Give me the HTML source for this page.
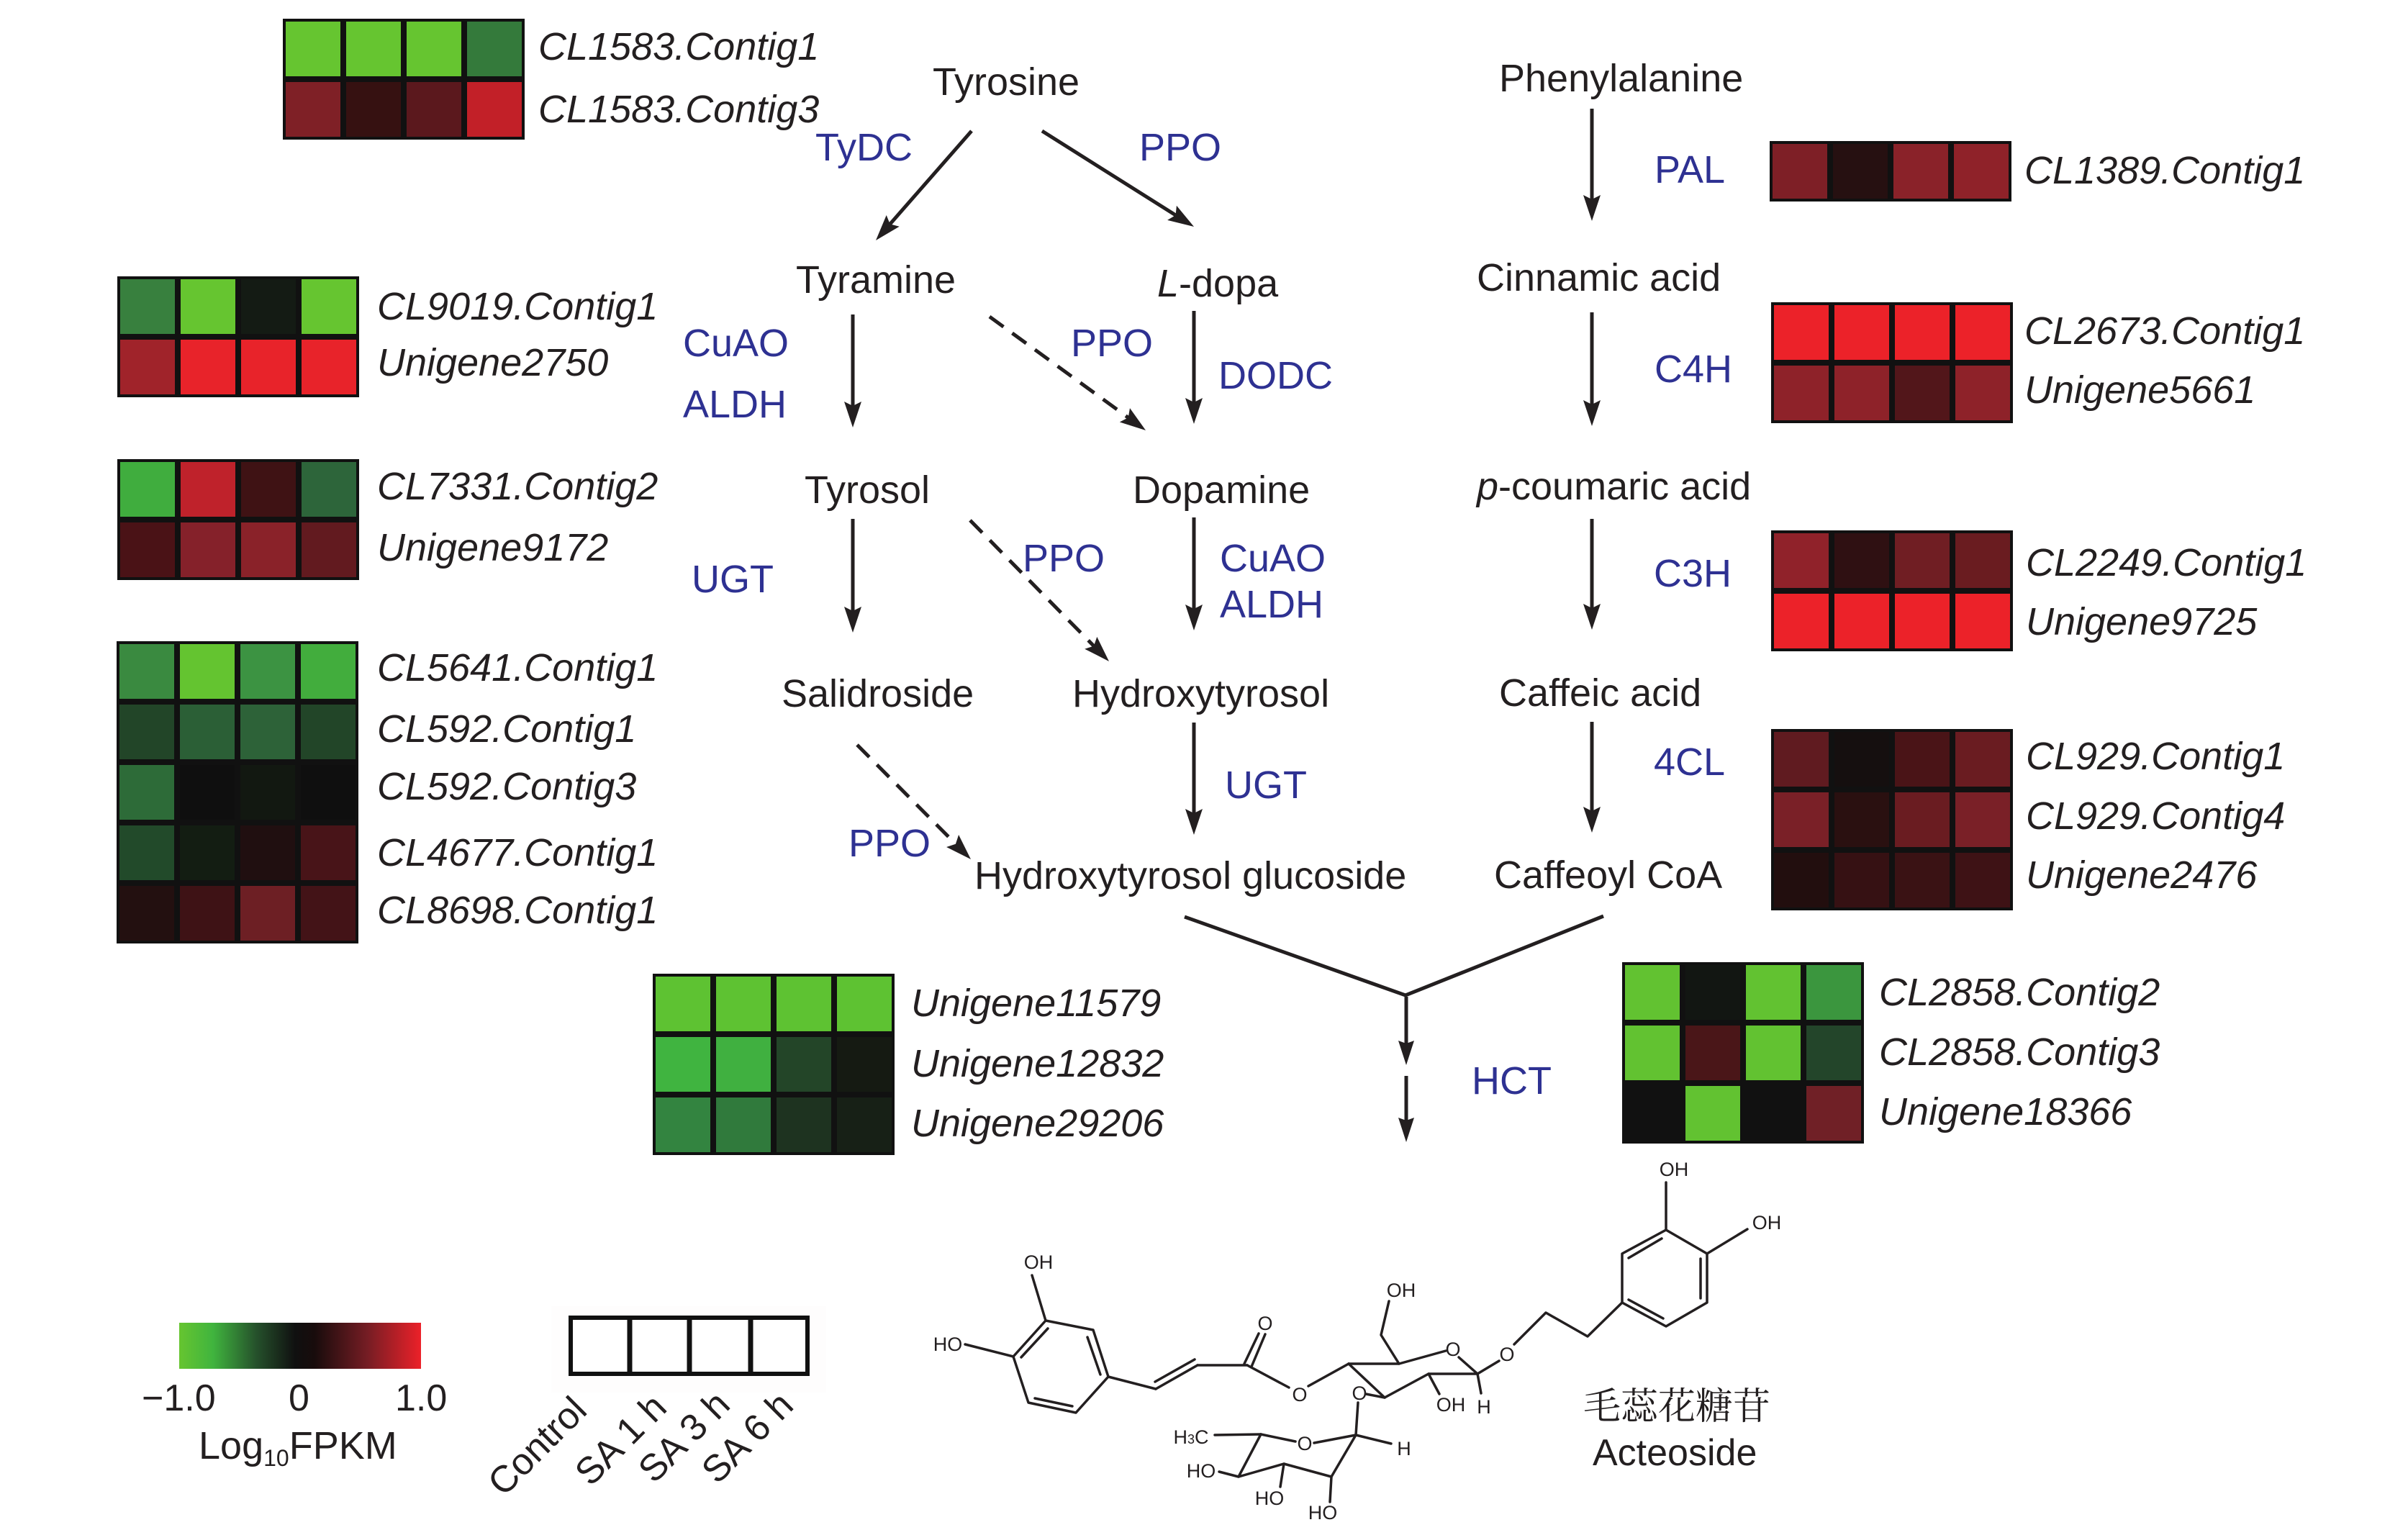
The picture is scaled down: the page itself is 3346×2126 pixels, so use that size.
<!DOCTYPE html>
<html>
<head>
<meta charset="utf-8">
<style>
html,body{margin:0;padding:0;background:#fff;}
svg{display:block;}
text{font-family:"Liberation Sans","Noto Sans CJK SC",sans-serif;fill:#231f20;}
.t{font-size:54px;}
.g{font-size:54px;font-style:italic;}
.b{font-size:54px;fill:#2e3192;}
.s{font-size:27px;}
.ln{stroke:#231f20;stroke-width:5;fill:none;}
.dl{stroke:#231f20;stroke-width:5;fill:none;stroke-dasharray:24 15;}
.bd{stroke:#231f20;stroke-width:3.5;fill:none;stroke-linecap:round;stroke-linejoin:round;}
.ah{fill:#231f20;}
</style>
</head>
<body>
<svg width="3346" height="2126" viewBox="0 0 3346 2126" xmlns="http://www.w3.org/2000/svg">
<defs>
<linearGradient id="cb" x1="0" y1="0" x2="1" y2="0">
<stop offset="0" stop-color="#66c530"/>
<stop offset="0.14" stop-color="#40b43e"/>
<stop offset="0.32" stop-color="#25502b"/>
<stop offset="0.48" stop-color="#101010"/>
<stop offset="0.56" stop-color="#180c0c"/>
<stop offset="0.78" stop-color="#761d24"/>
<stop offset="1" stop-color="#ec2129"/>
</linearGradient>
</defs>

<!-- H1 CL1583 -->
<g transform="translate(393,26)">
<rect width="336" height="168" fill="#111"/>
<rect x="4" y="4" width="76" height="76" fill="#66c530"/><rect x="88" y="4" width="76" height="76" fill="#66c530"/><rect x="172" y="4" width="76" height="76" fill="#66c530"/><rect x="256" y="4" width="76" height="76" fill="#347a3b"/>
<rect x="4" y="88" width="76" height="76" fill="#7f2026"/><rect x="88" y="88" width="76" height="76" fill="#361111"/><rect x="172" y="88" width="76" height="76" fill="#5b181d"/><rect x="256" y="88" width="76" height="76" fill="#c22028"/>
</g>
<!-- H2 CL9019 -->
<g transform="translate(163,384)">
<rect width="336" height="168" fill="#111"/>
<rect x="4" y="4" width="76" height="76" fill="#38803e"/><rect x="88" y="4" width="76" height="76" fill="#66c530"/><rect x="172" y="4" width="76" height="76" fill="#141b14"/><rect x="256" y="4" width="76" height="76" fill="#66c530"/>
<rect x="4" y="88" width="76" height="76" fill="#a0232a"/><rect x="88" y="88" width="76" height="76" fill="#e8232a"/><rect x="172" y="88" width="76" height="76" fill="#e8232a"/><rect x="256" y="88" width="76" height="76" fill="#e8232a"/>
</g>
<!-- H3 CL7331 -->
<g transform="translate(163,638)">
<rect width="336" height="168" fill="#111"/>
<rect x="4" y="4" width="76" height="76" fill="#40ad3e"/><rect x="88" y="4" width="76" height="76" fill="#bf222b"/><rect x="172" y="4" width="76" height="76" fill="#3f1214"/><rect x="256" y="4" width="76" height="76" fill="#2d653a"/>
<rect x="4" y="88" width="76" height="76" fill="#4a1216"/><rect x="88" y="88" width="76" height="76" fill="#85212a"/><rect x="172" y="88" width="76" height="76" fill="#8a2229"/><rect x="256" y="88" width="76" height="76" fill="#621a1f"/>
</g>
<!-- H4 5 rows -->
<g transform="translate(162,891)">
<rect width="336" height="420" fill="#111"/>
<rect x="4" y="4" width="76" height="76" fill="#3a8a40"/><rect x="88" y="4" width="76" height="76" fill="#64c430"/><rect x="172" y="4" width="76" height="76" fill="#3c9342"/><rect x="256" y="4" width="76" height="76" fill="#42ad3d"/>
<rect x="4" y="88" width="76" height="76" fill="#224528"/><rect x="88" y="88" width="76" height="76" fill="#2b5f36"/><rect x="172" y="88" width="76" height="76" fill="#2d6238"/><rect x="256" y="88" width="76" height="76" fill="#224528"/>
<rect x="4" y="172" width="76" height="76" fill="#2d6b38"/><rect x="88" y="172" width="76" height="76" fill="#0f0f0f"/><rect x="172" y="172" width="76" height="76" fill="#121811"/><rect x="256" y="172" width="76" height="76" fill="#0f0f0f"/>
<rect x="4" y="256" width="76" height="76" fill="#224a2a"/><rect x="88" y="256" width="76" height="76" fill="#131d12"/><rect x="172" y="256" width="76" height="76" fill="#200f10"/><rect x="256" y="256" width="76" height="76" fill="#481418"/>
<rect x="4" y="340" width="76" height="76" fill="#231010"/><rect x="88" y="340" width="76" height="76" fill="#3e1215"/><rect x="172" y="340" width="76" height="76" fill="#6d1f24"/><rect x="256" y="340" width="76" height="76" fill="#431317"/>
</g>
<!-- H5 Unigene 3 rows -->
<g transform="translate(907,1353)">
<rect width="336" height="252" fill="#111"/>
<rect x="4" y="4" width="76" height="76" fill="#5ec232"/><rect x="88" y="4" width="76" height="76" fill="#5ec232"/><rect x="172" y="4" width="76" height="76" fill="#5ec232"/><rect x="256" y="4" width="76" height="76" fill="#5ec232"/>
<rect x="4" y="88" width="76" height="76" fill="#40b440"/><rect x="88" y="88" width="76" height="76" fill="#40b040"/><rect x="172" y="88" width="76" height="76" fill="#234528"/><rect x="256" y="88" width="76" height="76" fill="#151a12"/>
<rect x="4" y="172" width="76" height="76" fill="#338440"/><rect x="88" y="172" width="76" height="76" fill="#307a3c"/><rect x="172" y="172" width="76" height="76" fill="#1e3320"/><rect x="256" y="172" width="76" height="76" fill="#172016"/>
</g>
<!-- H6 CL1389 -->
<g transform="translate(2459,196)">
<rect width="336" height="84" fill="#111"/>
<rect x="4" y="4" width="76" height="76" fill="#7e1f26"/><rect x="88" y="4" width="76" height="76" fill="#261011"/><rect x="172" y="4" width="76" height="76" fill="#8a2229"/><rect x="256" y="4" width="76" height="76" fill="#8f2229"/>
</g>
<!-- H7 CL2673 -->
<g transform="translate(2461,420)">
<rect width="336" height="168" fill="#111"/>
<rect x="4" y="4" width="76" height="76" fill="#ec2229"/><rect x="88" y="4" width="76" height="76" fill="#ec2229"/><rect x="172" y="4" width="76" height="76" fill="#ec2229"/><rect x="256" y="4" width="76" height="76" fill="#ec2229"/>
<rect x="4" y="88" width="76" height="76" fill="#8e2229"/><rect x="88" y="88" width="76" height="76" fill="#8e2229"/><rect x="172" y="88" width="76" height="76" fill="#52161a"/><rect x="256" y="88" width="76" height="76" fill="#8e2229"/>
</g>
<!-- H8 CL2249 -->
<g transform="translate(2461,737)">
<rect width="336" height="168" fill="#111"/>
<rect x="4" y="4" width="76" height="76" fill="#90222a"/><rect x="88" y="4" width="76" height="76" fill="#2f1012"/><rect x="172" y="4" width="76" height="76" fill="#701e23"/><rect x="256" y="4" width="76" height="76" fill="#6a1c20"/>
<rect x="4" y="88" width="76" height="76" fill="#ec2229"/><rect x="88" y="88" width="76" height="76" fill="#ec2229"/><rect x="172" y="88" width="76" height="76" fill="#ec2229"/><rect x="256" y="88" width="76" height="76" fill="#ec2229"/>
</g>
<!-- H9 CL929 -->
<g transform="translate(2461,1013)">
<rect width="336" height="252" fill="#111"/>
<rect x="4" y="4" width="76" height="76" fill="#601b20"/><rect x="88" y="4" width="76" height="76" fill="#150f0f"/><rect x="172" y="4" width="76" height="76" fill="#4a1417"/><rect x="256" y="4" width="76" height="76" fill="#6a1c21"/>
<rect x="4" y="88" width="76" height="76" fill="#7a2027"/><rect x="88" y="88" width="76" height="76" fill="#2a1010"/><rect x="172" y="88" width="76" height="76" fill="#6a1c21"/><rect x="256" y="88" width="76" height="76" fill="#7a2027"/>
<rect x="4" y="172" width="76" height="76" fill="#220e0e"/><rect x="88" y="172" width="76" height="76" fill="#361113"/><rect x="172" y="172" width="76" height="76" fill="#3a1214"/><rect x="256" y="172" width="76" height="76" fill="#3e1215"/>
</g>
<!-- H10 CL2858 -->
<g transform="translate(2254,1337)">
<rect width="336" height="252" fill="#111"/>
<rect x="4" y="4" width="76" height="76" fill="#62c231"/><rect x="88" y="4" width="76" height="76" fill="#121612"/><rect x="172" y="4" width="76" height="76" fill="#62c231"/><rect x="256" y="4" width="76" height="76" fill="#3b963e"/>
<rect x="4" y="88" width="76" height="76" fill="#62c231"/><rect x="88" y="88" width="76" height="76" fill="#4a1618"/><rect x="172" y="88" width="76" height="76" fill="#62c231"/><rect x="256" y="88" width="76" height="76" fill="#23452a"/>
<rect x="4" y="172" width="76" height="76" fill="#111111"/><rect x="88" y="172" width="76" height="76" fill="#62c231"/><rect x="172" y="172" width="76" height="76" fill="#111111"/><rect x="256" y="172" width="76" height="76" fill="#702026"/>
</g>

<!-- GENE LABELS -->
<text class="g" x="748" y="83">CL1583.Contig1</text>
<text class="g" x="748" y="170">CL1583.Contig3</text>
<text class="g" x="524" y="444">CL9019.Contig1</text>
<text class="g" x="524" y="522">Unigene2750</text>
<text class="g" x="524" y="694">CL7331.Contig2</text>
<text class="g" x="524" y="779">Unigene9172</text>
<text class="g" x="524" y="946">CL5641.Contig1</text>
<text class="g" x="524" y="1031">CL592.Contig1</text>
<text class="g" x="524" y="1111">CL592.Contig3</text>
<text class="g" x="524" y="1203">CL4677.Contig1</text>
<text class="g" x="524" y="1283">CL8698.Contig1</text>
<text class="g" x="1266" y="1412">Unigene11579</text>
<text class="g" x="1266" y="1496">Unigene12832</text>
<text class="g" x="1266" y="1579">Unigene29206</text>
<text class="g" x="2813" y="255">CL1389.Contig1</text>
<text class="g" x="2813" y="478">CL2673.Contig1</text>
<text class="g" x="2813" y="560">Unigene5661</text>
<text class="g" x="2815" y="800">CL2249.Contig1</text>
<text class="g" x="2815" y="882">Unigene9725</text>
<text class="g" x="2815" y="1069">CL929.Contig1</text>
<text class="g" x="2815" y="1152">CL929.Contig4</text>
<text class="g" x="2815" y="1234">Unigene2476</text>
<text class="g" x="2611" y="1397">CL2858.Contig2</text>
<text class="g" x="2611" y="1480">CL2858.Contig3</text>
<text class="g" x="2611" y="1563">Unigene18366</text>

<!-- NODES -->
<text class="t" x="1296" y="132">Tyrosine</text>
<text class="t" x="1106" y="407">Tyramine</text>
<text class="t" x="1608" y="412"><tspan font-style="italic">L</tspan>-dopa</text>
<text class="t" x="1118" y="699">Tyrosol</text>
<text class="t" x="1574" y="699">Dopamine</text>
<text class="t" x="1086" y="982">Salidroside</text>
<text class="t" x="1490" y="982">Hydroxytyrosol</text>
<text class="t" x="1354" y="1235">Hydroxytyrosol glucoside</text>
<text class="t" x="2083" y="127">Phenylalanine</text>
<text class="t" x="2052" y="404">Cinnamic acid</text>
<text class="t" x="2052" y="694"><tspan font-style="italic">p</tspan>-coumaric acid</text>
<text class="t" x="2083" y="981">Caffeic acid</text>
<text class="t" x="2076" y="1234">Caffeoyl CoA</text>

<!-- ENZYMES -->
<text class="b" x="1133" y="223">TyDC</text>
<text class="b" x="1583" y="223">PPO</text>
<text class="b" x="949" y="495">CuAO</text>
<text class="b" x="949" y="580">ALDH</text>
<text class="b" x="1488" y="495">PPO</text>
<text class="b" x="1693" y="540">DODC</text>
<text class="b" x="961" y="823">UGT</text>
<text class="b" x="1421" y="794">PPO</text>
<text class="b" x="1695" y="794">CuAO</text>
<text class="b" x="1695" y="858">ALDH</text>
<text class="b" x="1702" y="1109">UGT</text>
<text class="b" x="1179" y="1190">PPO</text>
<text class="b" x="2299" y="254">PAL</text>
<text class="b" x="2299" y="531">C4H</text>
<text class="b" x="2298" y="815">C3H</text>
<text class="b" x="2298" y="1077">4CL</text>
<text class="b" x="2045" y="1520">HCT</text>

<!-- ARROWS -->
<line class="ln" x1="1350" y1="182" x2="1236.7" y2="311.4"/>
<polygon class="ah" points="1217,334 1231.7,299 1236.7,311.4 1249.7,314.8"/>
<line class="ln" x1="1448" y1="182" x2="1633.6" y2="299"/>
<polygon class="ah" points="1659,315 1622.1,305.9 1633.6,299 1634.9,285.7"/>
<line class="dl" x1="1375" y1="440" x2="1567.7" y2="580.3"/>
<polygon class="ah" points="1592,598 1555.8,586.5 1567.7,580.3 1570,567.1"/>
<line class="dl" x1="1348" y1="723" x2="1519.9" y2="897.6"/>
<polygon class="ah" points="1541,919 1507.2,901.7 1519.9,897.6 1524.3,884.9"/>
<line class="dl" x1="1191" y1="1035" x2="1327.9" y2="1172.7"/>
<polygon class="ah" points="1349,1194 1315.1,1177 1327.9,1172.7 1332.1,1160"/>

<line class="ln" x1="1185" y1="437" x2="1185" y2="566"/>
<polygon class="ah" points="1185,594 1173,558 1185,564 1197,558"/>
<line class="ln" x1="1659" y1="432" x2="1659" y2="561"/>
<polygon class="ah" points="1659,589 1647,553 1659,559 1671,553"/>
<line class="ln" x1="1185" y1="721" x2="1185" y2="851"/>
<polygon class="ah" points="1185,879 1173,843 1185,849 1197,843"/>
<line class="ln" x1="1659" y1="719" x2="1659" y2="848"/>
<polygon class="ah" points="1659,876 1647,840 1659,846 1671,840"/>
<line class="ln" x1="1659" y1="1004" x2="1659" y2="1132"/>
<polygon class="ah" points="1659,1160 1647,1124 1659,1130 1671,1124"/>

<line class="ln" x1="2212" y1="151" x2="2212" y2="279"/>
<polygon class="ah" points="2212,307 2200,271 2212,277 2224,271"/>
<line class="ln" x1="2212" y1="434" x2="2212" y2="564"/>
<polygon class="ah" points="2212,592 2200,556 2212,562 2224,556"/>
<line class="ln" x1="2212" y1="721" x2="2212" y2="847"/>
<polygon class="ah" points="2212,875 2200,839 2212,845 2224,839"/>
<line class="ln" x1="2212" y1="1003" x2="2212" y2="1129"/>
<polygon class="ah" points="2212,1157 2200,1121 2212,1127 2224,1121"/>

<polyline class="ln" points="1646,1274 1953,1383 2228,1273" stroke-width="4.5"/>
<line class="ln" x1="1954" y1="1385" x2="1954" y2="1452"/>
<polygon class="ah" points="1954,1480 1943,1446 1954,1450 1965,1446"/>
<line class="ln" x1="1954" y1="1495" x2="1954" y2="1559"/>
<polygon class="ah" points="1954,1587 1943,1553 1954,1557 1965,1553"/>

<!-- LEGEND -->
<rect x="249" y="1838" width="336" height="64" fill="url(#cb)"/>
<text x="197" y="1960" font-size="52">−1.0</text>
<text x="401" y="1960" font-size="52">0</text>
<text x="549" y="1960" font-size="52">1.0</text>
<text x="276" y="2027" font-size="54">Log<tspan font-size="32" dy="10">10</tspan><tspan dy="-10">FPKM</tspan></text>

<rect x="766" y="1815" width="382" height="120" fill="#fefdfd"/>
<rect x="793" y="1831" width="329" height="78" fill="#fff" stroke="#111" stroke-width="6"/>
<line x1="875" y1="1831" x2="875" y2="1909" stroke="#111" stroke-width="7"/>
<line x1="958" y1="1831" x2="958" y2="1909" stroke="#111" stroke-width="7"/>
<line x1="1043" y1="1831" x2="1043" y2="1909" stroke="#111" stroke-width="7"/>

<text x="746" y="2009" font-size="52" text-anchor="middle" dy="0.35em" transform="rotate(-45 746 2009)">Control</text>
<text x="862" y="2000" font-size="52" text-anchor="middle" dy="0.35em" transform="rotate(-45 862 2000)">SA 1 h</text>
<text x="950" y="1996" font-size="52" text-anchor="middle" dy="0.35em" transform="rotate(-45 950 1996)">SA 3 h</text>
<text x="1038" y="1997" font-size="52" text-anchor="middle" dy="0.35em" transform="rotate(-45 1038 1997)">SA 6 h</text>

<!-- STRUCTURE -->
<g class="bd">
<line x1="1434" y1="1772" x2="1453" y2="1835"/>
<polygon points="1453,1835 1519,1848 1540,1913 1495,1963 1429,1949 1408,1885"/>
<line x1="1419" y1="1886" x2="1456" y2="1846"/>
<line x1="1511" y1="1858" x2="1529" y2="1910"/>
<line x1="1438" y1="1943" x2="1490" y2="1954"/>
<line x1="1341" y1="1868" x2="1408" y2="1885"/>
<line x1="1540" y1="1913" x2="1606" y2="1930"/>
<line x1="1606" y1="1930" x2="1664" y2="1897"/>
<line x1="1605" y1="1920" x2="1660" y2="1889"/>
<line x1="1664" y1="1897" x2="1733" y2="1897"/>
<line x1="1729" y1="1895" x2="1749" y2="1853"/>
<line x1="1739" y1="1899" x2="1758" y2="1854"/>
<line x1="1733" y1="1897" x2="1791" y2="1928"/>
<line x1="1818" y1="1926" x2="1874" y2="1895"/>
<polyline points="1874,1895 1944,1895 2009,1877"/>
<line x1="2027" y1="1886" x2="2053" y2="1909"/>
<polyline points="2053,1909 1985,1909 1924,1942 1874,1895"/>
<line x1="1898" y1="1937" x2="1924" y2="1942"/>
<line x1="1887" y1="1949" x2="1884" y2="1994"/>
<polyline points="1944,1895 1919,1855 1930,1808"/>
<line x1="1985" y1="1909" x2="2000" y2="1937"/>
<line x1="2053" y1="1909" x2="2058" y2="1936"/>
<line x1="2053" y1="1909" x2="2083" y2="1891"/>
<polyline points="2104,1868 2148,1824 2206,1857 2254,1810"/>
<polygon points="2254,1810 2254,1742 2315,1709 2372,1742 2372,1810 2315,1843"/>
<line x1="2263" y1="1748" x2="2309" y2="1721"/>
<line x1="2363" y1="1749" x2="2363" y2="1804"/>
<line x1="2263" y1="1806" x2="2311" y2="1832"/>
<line x1="2315" y1="1709" x2="2315" y2="1643"/>
<line x1="2372" y1="1742" x2="2428" y2="1708"/>
<line x1="1884" y1="1994" x2="1933" y2="2006"/>
<line x1="1884" y1="1994" x2="1826" y2="2005"/>
<line x1="1800" y1="2003" x2="1752" y2="1993"/>
<line x1="1752" y1="1993" x2="1688" y2="1994"/>
<polyline points="1752,1993 1721,2052 1784,2034 1850,2052 1884,1994"/>
<line x1="1721" y1="2052" x2="1694" y2="2045"/>
<line x1="1784" y1="2034" x2="1779" y2="2066"/>
<line x1="1850" y1="2052" x2="1848" y2="2087"/>
</g>
<g class="s">
<text class="s" x="1443" y="1763" text-anchor="middle">OH</text>
<text class="s" x="1317" y="1877" text-anchor="middle">HO</text>
<text class="s" x="1758" y="1848" text-anchor="middle">O</text>
<text class="s" x="1806" y="1947" text-anchor="middle">O</text>
<text class="s" x="1889" y="1945" text-anchor="middle">O</text>
<text class="s" x="2019" y="1884" text-anchor="middle">O</text>
<text class="s" x="1947" y="1802" text-anchor="middle">OH</text>
<text class="s" x="2016" y="1961" text-anchor="middle">OH</text>
<text class="s" x="2062" y="1964" text-anchor="middle">H</text>
<text class="s" x="2094" y="1891" text-anchor="middle">O</text>
<text class="s" x="2326" y="1634" text-anchor="middle">OH</text>
<text class="s" x="2455" y="1708" text-anchor="middle">OH</text>
<text class="s" x="1951" y="2022" text-anchor="middle">H</text>
<text class="s" x="1813" y="2015" text-anchor="middle">O</text>
<text class="s" x="1655" y="2006" text-anchor="middle">H<tspan font-size="18">3</tspan>C</text>
<text class="s" x="1669" y="2053" text-anchor="middle">HO</text>
<text class="s" x="1764" y="2091" text-anchor="middle">HO</text>
<text class="s" x="1838" y="2111" text-anchor="middle">HO</text>
</g>

<text x="2200" y="1972" font-size="52" style="font-family:'Liberation Serif','Noto Serif CJK SC','Noto Sans CJK SC',serif;">毛蕊花糖苷</text>
<text x="2213" y="2036" font-size="52">Acteoside</text>
</svg>
</body>
</html>
